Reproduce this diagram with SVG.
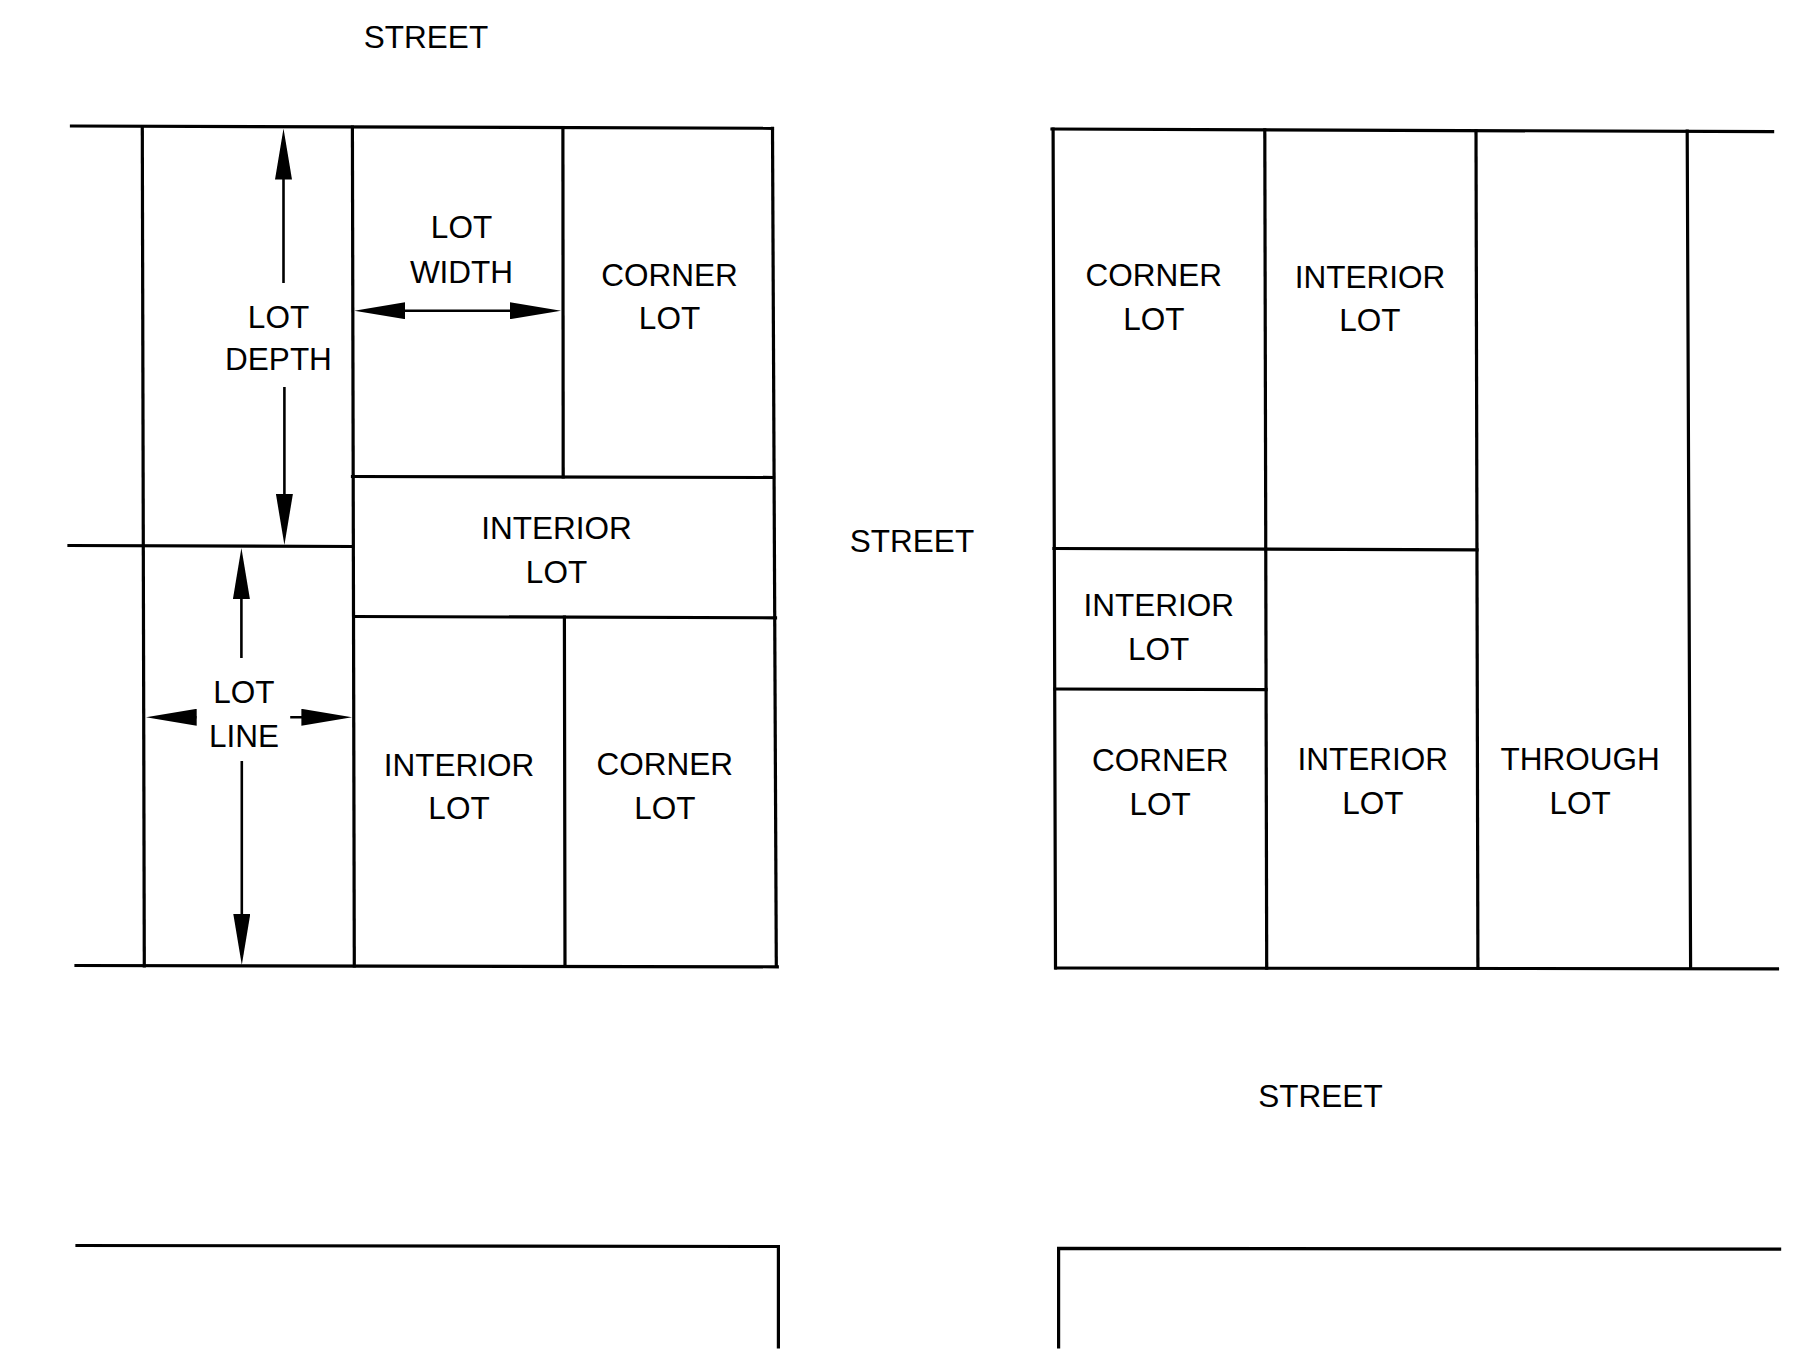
<svg xmlns="http://www.w3.org/2000/svg" width="1800" height="1355" viewBox="0 0 1800 1355">
<style>
.ln{stroke:#000;stroke-width:3.2;fill:none;stroke-linecap:square}
.ar{stroke:#000;stroke-width:2.6;fill:none}
text{font-family:"Liberation Sans",Arial,sans-serif;font-size:31.5px;fill:#000;text-anchor:middle}
</style>
<defs>
<marker id="ah" viewBox="0 0 51 17" markerWidth="51" markerHeight="17" refX="41" refY="8.5" orient="auto-start-reverse" markerUnits="userSpaceOnUse">
<path d="M0,0 L51,8.5 L0,17 z" fill="#000"/>
</marker>
</defs>
<rect width="1800" height="1355" fill="#fff"/>
<g id="streets">
<text x="426" y="47.5">STREET</text>
<text x="912" y="551.5">STREET</text>
<text x="1320.5" y="1106.5">STREET</text>
</g>
<g id="left-block">
<path class="ln" d="M71.5,126 L772.5,128.3"/>
<path class="ln" d="M142.3,127 L144.3,966"/>
<path class="ln" d="M352.4,127 L354.3,966"/>
<path class="ln" d="M562.9,127.5 L563.2,477"/>
<path class="ln" d="M564.4,617 L565,966"/>
<path class="ln" d="M772.5,128.3 L776.3,966.5"/>
<path class="ln" d="M352.5,476.5 L773.5,477.5"/>
<path class="ln" d="M354,616.5 L775.5,617.8"/>
<path class="ln" d="M69,545.5 L352.5,546.5"/>
<path class="ln" d="M76,965.5 L777.3,966.8"/>
</g>
<g id="connectors">
<line class="ar" x1="283.5" y1="283" x2="283.5" y2="138.5" marker-end="url(#ah)"/>
<line class="ar" x1="284.4" y1="387" x2="284.4" y2="535" marker-end="url(#ah)"/>
<line class="ar" x1="364.3" y1="310.7" x2="551" y2="310.7" marker-start="url(#ah)" marker-end="url(#ah)"/>
<line class="ar" x1="241.4" y1="658" x2="241.4" y2="558" marker-end="url(#ah)"/>
<line class="ar" x1="241.8" y1="761" x2="241.8" y2="955" marker-end="url(#ah)"/>
<line class="ar" x1="196.5" y1="717.3" x2="155.7" y2="717.3" marker-end="url(#ah)"/>
<line class="ar" x1="290.2" y1="717.3" x2="342.4" y2="717.3" marker-end="url(#ah)"/>
</g>
<g id="lot-depth"><text x="278.5" y="328">LOT</text><text x="278.5" y="370">DEPTH</text></g>
<g id="lot-width"><text x="461.5" y="238">LOT</text><text x="461.5" y="282.5">WIDTH</text></g>
<g id="corner-lot-1"><text x="669.5" y="285.5">CORNER</text><text x="669.5" y="329">LOT</text></g>
<g id="interior-lot-1"><text x="556.5" y="538.5">INTERIOR</text><text x="556.5" y="582.5">LOT</text></g>
<g id="lot-line"><text x="243.8" y="702.5">LOT</text><text x="244" y="746.5">LINE</text></g>
<g id="interior-lot-2"><text x="459" y="775.5">INTERIOR</text><text x="459" y="819">LOT</text></g>
<g id="corner-lot-2"><text x="664.8" y="775">CORNER</text><text x="664.8" y="818.5">LOT</text></g>
<g id="right-block">
<path class="ln" d="M1052,129 L1772.6,131.7"/>
<path class="ln" d="M1053.1,129 L1055.5,968"/>
<path class="ln" d="M1264.8,129.8 L1266.7,968.2"/>
<path class="ln" d="M1476,130.5 L1477.9,968.3"/>
<path class="ln" d="M1687.2,131 L1690.6,968.5"/>
<path class="ln" d="M1054,548.5 L1477,549.8"/>
<path class="ln" d="M1055,689 L1266,689.6"/>
<path class="ln" d="M1056,968 L1777.5,968.8"/>
</g>
<g id="corner-lot-3"><text x="1153.8" y="286">CORNER</text><text x="1153.8" y="329.5">LOT</text></g>
<g id="interior-lot-3"><text x="1369.9" y="287.5">INTERIOR</text><text x="1369.9" y="330.8">LOT</text></g>
<g id="interior-lot-4"><text x="1158.7" y="616">INTERIOR</text><text x="1158.7" y="659.5">LOT</text></g>
<g id="corner-lot-4"><text x="1160.2" y="771">CORNER</text><text x="1160.2" y="815">LOT</text></g>
<g id="interior-lot-5"><text x="1372.8" y="769.5">INTERIOR</text><text x="1372.8" y="813.5">LOT</text></g>
<g id="through-lot"><text x="1580.1" y="769.5">THROUGH</text><text x="1580.1" y="813.5">LOT</text></g>
<g id="lower-blocks">
<path class="ln" d="M77,1245.5 L778.4,1246.5 L778.4,1347"/>
<path class="ln" d="M1058.6,1347 L1058.6,1248.3 L1779.6,1249.2"/>
</g>
</svg>
